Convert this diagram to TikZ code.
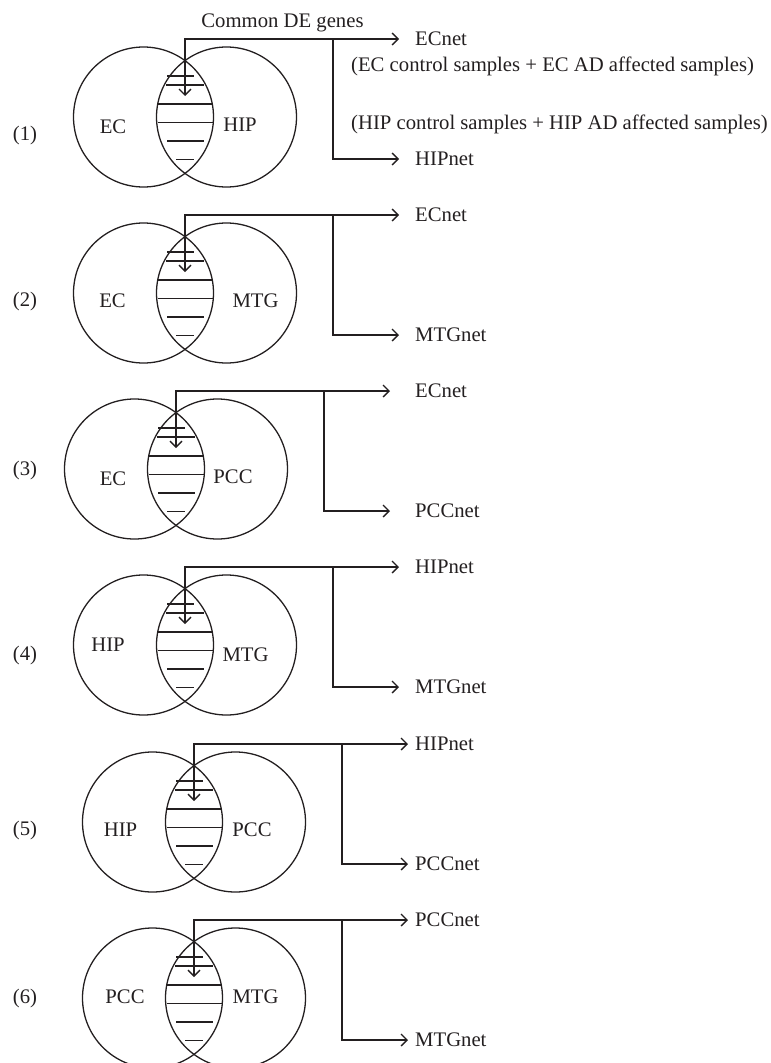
\documentclass[tikz,border=0pt]{standalone}
\usepackage{fontspec}
\setmainfont{Liberation Serif}
\usetikzlibrary{arrows.meta}
\definecolor{ink}{HTML}{231F20}
\tikzset{
  venn/.style={circle,draw=ink,line width=1.3pt,minimum size=140pt,inner sep=0pt},
  hatch/.style={draw=ink,line width=1.3pt},
  conn/.style={draw=ink,line width=1.3pt},
  barb/.tip={Straight Barb[length=6pt,width=12pt,line width=1.3pt]},
  arr/.style={conn,-barb},
  lbl/.style={inner sep=0pt,text=ink,font=\fontsize{20.7}{24}\selectfont},
  net/.style={lbl,anchor=west},
}
% #1 name, #2 x of lens, #3 y of centre, #4 upper net, #5 lower net
\newcommand\vennpanel[5]{%
  \begin{scope}[shift={(#2,#3)}]
    \node[venn] (#1a) at (-41.5,0) {};
    \node[venn] (#1b) at (41.5,0) {};
    \draw[hatch] (-18,-41) -- (9,-41);
    \draw[hatch] (-19,-32) -- (19,-32);
    \draw[hatch] (-27.5,-13) -- (27.5,-13);
    \draw[hatch] (-27.5,5.5) -- (27.5,5.5);
    \draw[hatch] (-18,24) -- (19,24);
    \draw[hatch] (-9,42.5) -- (9,42.5);
    \coordinate (#1top) at (0,-78);
    \coordinate (#1tip) at (0,-21);
    \coordinate (#1br) at (148,-78);
    \coordinate (#1brb) at (148,42);
    \coordinate (#1o1) at (214,-78);
    \coordinate (#1o2) at (214,42);
  \end{scope}
  \draw[conn,barb-barb] (#1tip) -- (#1top) -- (#1o1);
  \draw[arr] (#1br) -- (#1brb) -- (#1o2);
  \node[net] (#1n1) at (415,#3-78) {#4};
  \node[net] (#1n2) at (415,#3+42) {#5};
}
\begin{document}
\begin{tikzpicture}[x=1pt,y=-1pt]
\useasboundingbox (0,0) rectangle (771,1063);
% panel 1
\vennpanel{pa}{185}{117}{ECnet}{HIPnet}
\node[lbl,anchor=base] (common) at (282.5,27) {Common DE genes};
\node[lbl,anchor=base west] (ecsmp) at (351,71) {(EC control samples + EC AD affected samples)};
\node[lbl,anchor=base west] (hipsmp) at (351,129) {(HIP control samples + HIP AD affected samples)};
\node[lbl] (l1) at (25,136) {(1)};
\node[lbl] (pal) at (113,126.5) {EC};
\node[lbl] (par) at (240,125) {HIP};
% panel 2
\vennpanel{pb}{185}{293}{ECnet}{MTGnet}
\node[lbl] (l2) at (25,302) {(2)};
\node[lbl] (pbl) at (112.5,300.5) {EC};
\node[lbl] (pbr) at (255.5,300.5) {MTG};
% panel 3
\vennpanel{pc}{176}{469}{ECnet}{PCCnet}
\node[lbl] (l3) at (25,471) {(3)};
\node[lbl] (pcl) at (113,478.5) {EC};
\node[lbl] (pcr) at (233,477) {PCC};
% panel 4
\vennpanel{pd}{185}{645}{HIPnet}{MTGnet}
\node[lbl] (l4) at (25,656) {(4)};
\node[lbl] (pdl) at (108,644.5) {HIP};
\node[lbl] (pdr) at (245.5,654.5) {MTG};
% panel 5
\vennpanel{pe}{194}{822}{HIPnet}{PCCnet}
\node[lbl] (l5) at (25,830.5) {(5)};
\node[lbl] (pel) at (120.5,830) {HIP};
\node[lbl] (per) at (252,830) {PCC};
% panel 6
\vennpanel{pf}{194}{998}{PCCnet}{MTGnet}
\node[lbl] (l6) at (25,999) {(6)};
\node[lbl] (pfl) at (125,996.5) {PCC};
\node[lbl] (pfr) at (255.5,996.5) {MTG};
\end{tikzpicture}
\end{document}
